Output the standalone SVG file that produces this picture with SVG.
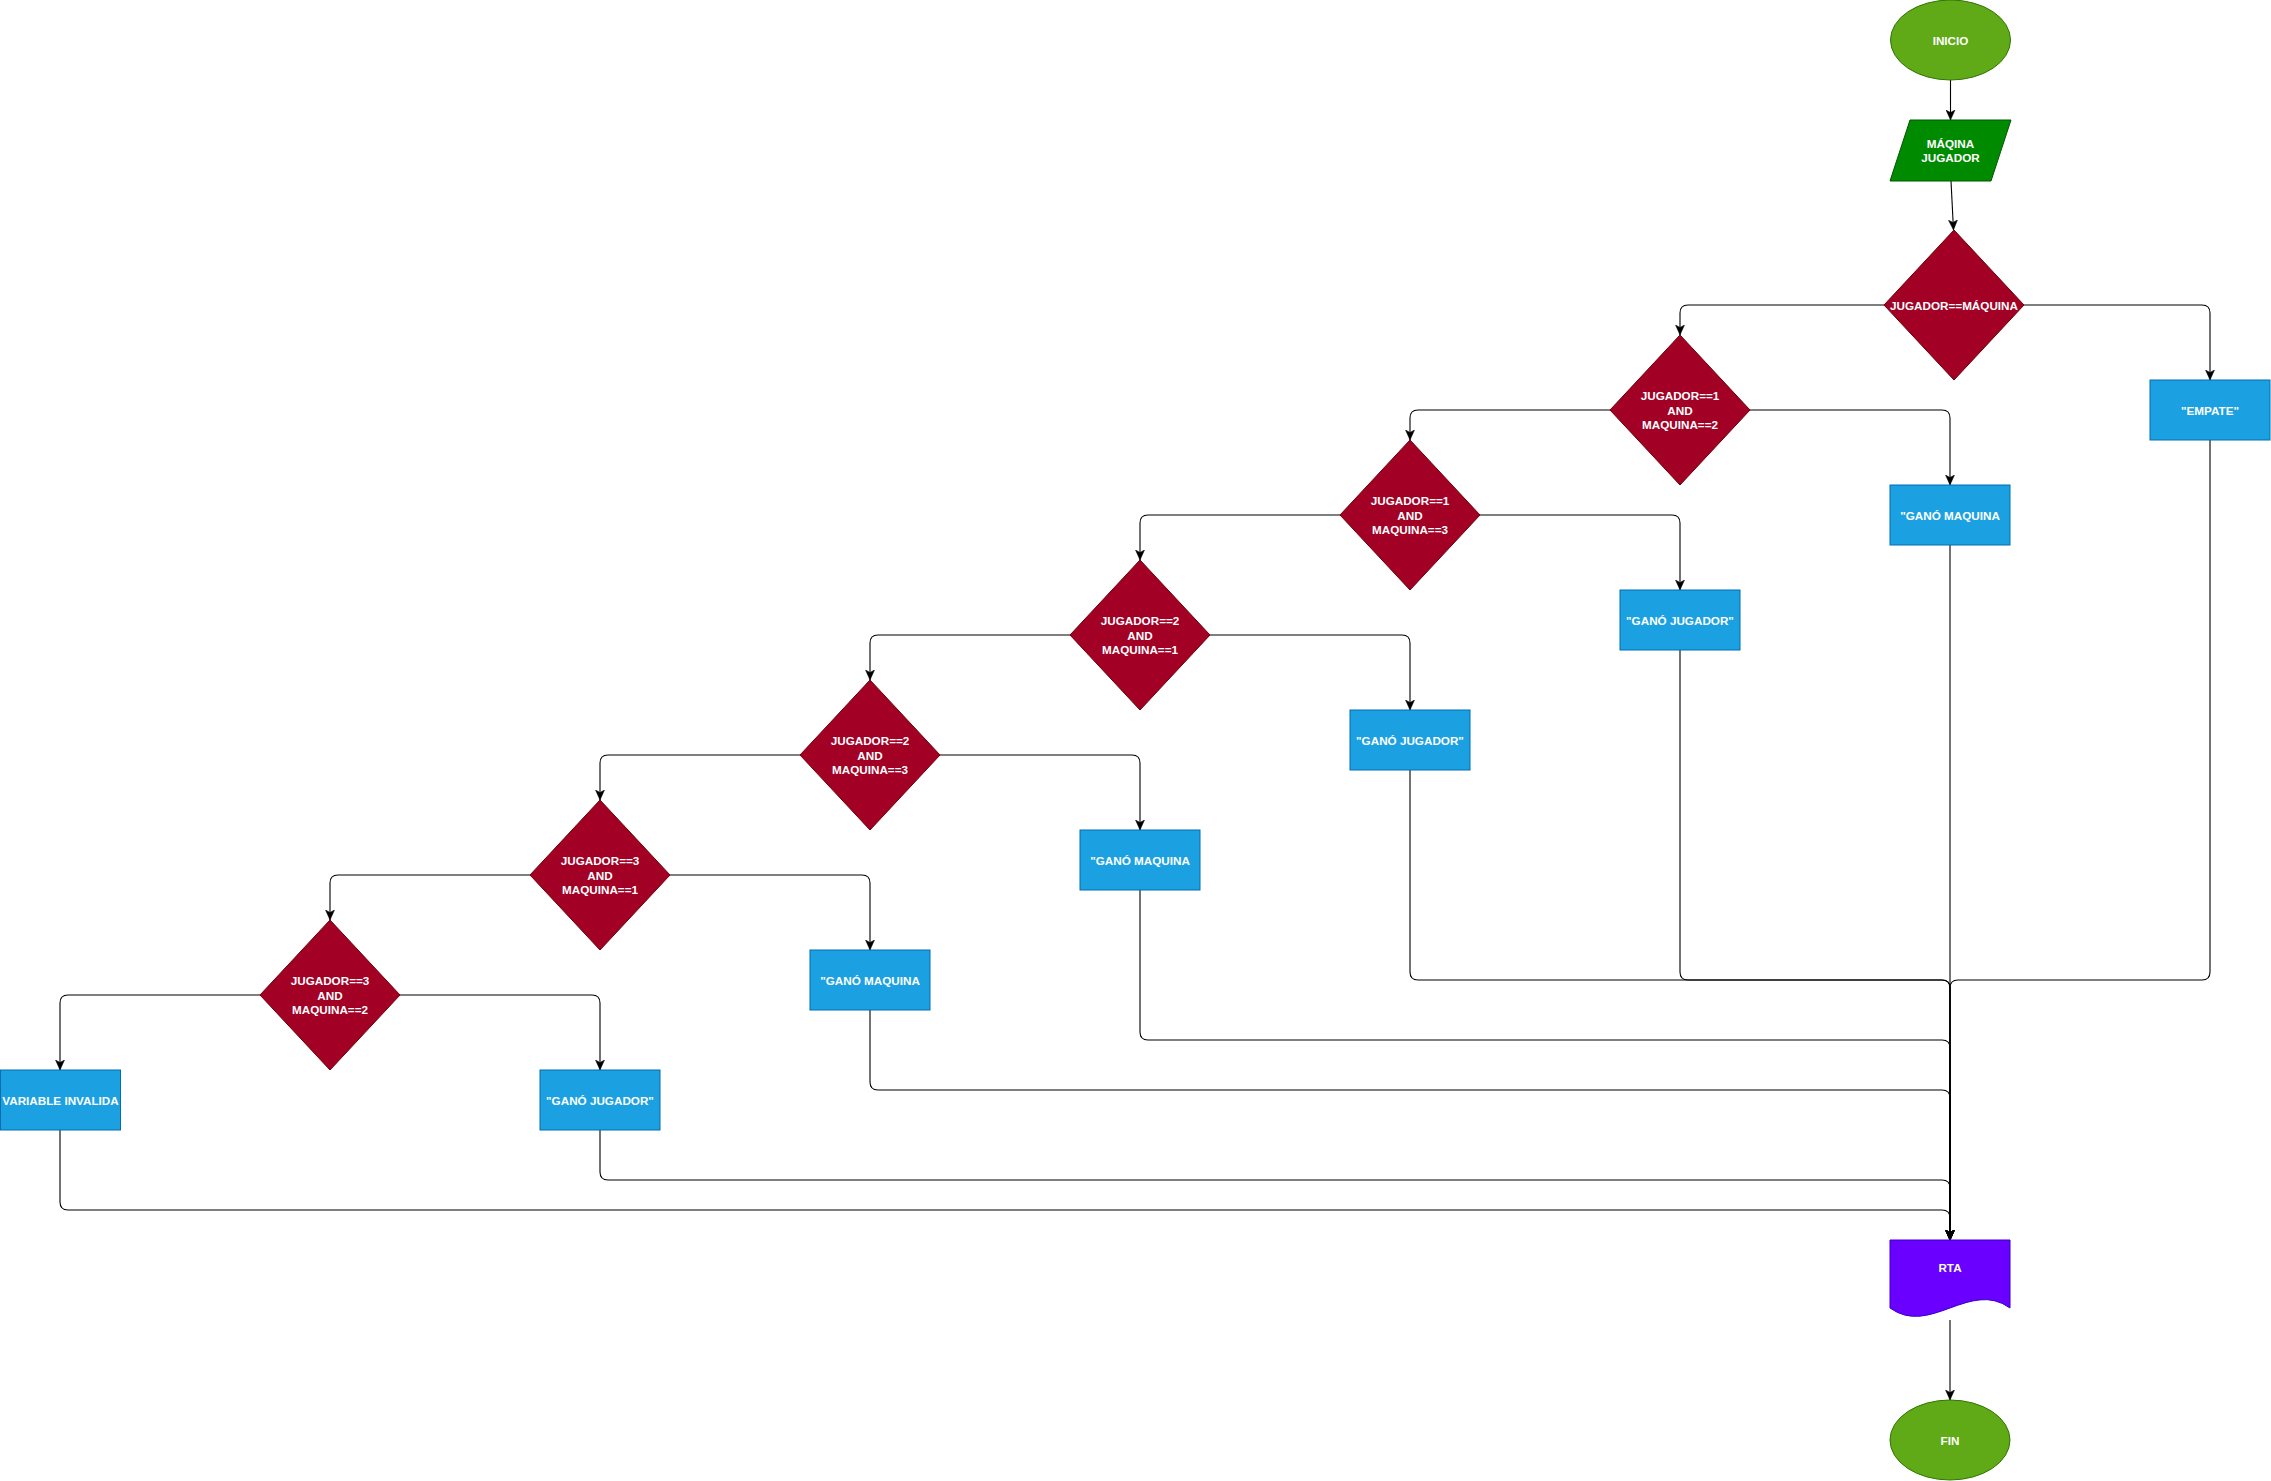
<svg xmlns="http://www.w3.org/2000/svg" width="2271" height="1481" viewBox="0 0 2271 1481">
<defs>
<marker id="arr" markerUnits="userSpaceOnUse" markerWidth="10" markerHeight="10" viewBox="0 0 10 10" refX="10" refY="5" orient="auto">
<path d="M0,0.5 L10,5 L0,9.5 L2.5,5 Z" fill="#000" stroke="#000" stroke-width="0.5"/>
</marker>
<style>
text{font-family:"Liberation Sans",Arial,sans-serif;font-size:11.7px;font-weight:bold;fill:#fff;text-anchor:middle;dominant-baseline:central}
.dia{fill:#a20025;stroke:#6f0000;stroke-width:1}
.box{fill:#1ba1e2;stroke:#006eaf;stroke-width:1}
.term{fill:#60a917;stroke:#2d7600;stroke-width:1}
.io{fill:#008a00;stroke:#005700;stroke-width:1}
.doc{fill:#6a00ff;stroke:#3700cc;stroke-width:1}
.e{fill:none;stroke:#000;stroke-width:1.1;marker-end:url(#arr)}
</style>
</defs>
<rect width="2271" height="1481" fill="#fff"/>
<g id="connectors">
<path class="e" d="M1950.5,80 V120"/>
<path class="e" d="M1951,181 L1953.5,230"/>
<path class="e" d="M1884,305 H1688 Q1680,305 1680,313 V335"/>
<path class="e" d="M2024,305 H2202 Q2210,305 2210,313 V380"/>
<path class="e" d="M1610,410 H1418 Q1410,410 1410,418 V440"/>
<path class="e" d="M1750,410 H1942 Q1950,410 1950,418 V485"/>
<path class="e" d="M1340,515 H1148 Q1140,515 1140,523 V560"/>
<path class="e" d="M1480,515 H1672 Q1680,515 1680,523 V590"/>
<path class="e" d="M1070,635 H878 Q870,635 870,643 V680"/>
<path class="e" d="M1210,635 H1402 Q1410,635 1410,643 V710"/>
<path class="e" d="M800,755 H608 Q600,755 600,763 V800"/>
<path class="e" d="M940,755 H1132 Q1140,755 1140,763 V830"/>
<path class="e" d="M530,875 H338 Q330,875 330,883 V920"/>
<path class="e" d="M670,875 H862 Q870,875 870,883 V950"/>
<path class="e" d="M260,995 H68 Q60,995 60,1003 V1070"/>
<path class="e" d="M400,995 H592 Q600,995 600,1003 V1070"/>
<path class="e" d="M2210,440 V972 Q2210,980 2202,980 H1958 Q1950,980 1950,988 V1240"/>
<path class="e" d="M1950,545 V1240"/>
<path class="e" d="M1680,650 V972 Q1680,980 1688,980 H1942 Q1950,980 1950,988 V1240"/>
<path class="e" d="M1410,770 V972 Q1410,980 1418,980 H1942 Q1950,980 1950,988 V1240"/>
<path class="e" d="M1140,890 V1032 Q1140,1040 1148,1040 H1942 Q1950,1040 1950,1048 V1240"/>
<path class="e" d="M870,1010 V1082 Q870,1090 878,1090 H1942 Q1950,1090 1950,1098 V1240"/>
<path class="e" d="M600,1130 V1172 Q600,1180 608,1180 H1942 Q1950,1180 1950,1188 V1240"/>
<path class="e" d="M60,1130 V1202 Q60,1210 68,1210 H1942 Q1950,1210 1950,1218 V1240"/>
<path class="e" d="M1950,1320 V1400"/>
</g>
<g id="inicio"><ellipse class="term" cx="1950.5" cy="40" rx="60" ry="40"/><text x="1950.5" y="40">INICIO</text></g>
<g id="entrada"><polygon class="io" points="1910,120 2011,120 1991,181 1890,181"/><text x="1950.5" y="143">MÁQINA</text><text x="1950.5" y="157.5">JUGADOR</text></g>
<g id="d1"><polygon class="dia" points="1954,230 2024,305 1954,380 1884,305"/><text x="1954" y="305">JUGADOR==MÁQUINA</text></g>
<g id="empate"><rect class="box" x="2150" y="380" width="120" height="60"/><text x="2210" y="410">"EMPATE"</text></g>
<g id="d2"><polygon class="dia" points="1680,335 1750,410 1680,485 1610,410"/><text x="1680" y="395.7">JUGADOR==1</text><text x="1680" y="410">AND</text><text x="1680" y="424.3">MAQUINA==2</text></g>
<g id="b2"><rect class="box" x="1890" y="485" width="120" height="60"/><text x="1950" y="515">"GANÓ MAQUINA</text></g>
<g id="d3"><polygon class="dia" points="1410,440 1480,515 1410,590 1340,515"/><text x="1410" y="500.7">JUGADOR==1</text><text x="1410" y="515">AND</text><text x="1410" y="529.3">MAQUINA==3</text></g>
<g id="b3"><rect class="box" x="1620" y="590" width="120" height="60"/><text x="1680" y="620">"GANÓ JUGADOR"</text></g>
<g id="d4"><polygon class="dia" points="1140,560 1210,635 1140,710 1070,635"/><text x="1140" y="620.7">JUGADOR==2</text><text x="1140" y="635">AND</text><text x="1140" y="649.3">MAQUINA==1</text></g>
<g id="b4"><rect class="box" x="1350" y="710" width="120" height="60"/><text x="1410" y="740">"GANÓ JUGADOR"</text></g>
<g id="d5"><polygon class="dia" points="870,680 940,755 870,830 800,755"/><text x="870" y="740.7">JUGADOR==2</text><text x="870" y="755">AND</text><text x="870" y="769.3">MAQUINA==3</text></g>
<g id="b5"><rect class="box" x="1080" y="830" width="120" height="60"/><text x="1140" y="860">"GANÓ MAQUINA</text></g>
<g id="d6"><polygon class="dia" points="600,800 670,875 600,950 530,875"/><text x="600" y="860.7">JUGADOR==3</text><text x="600" y="875">AND</text><text x="600" y="889.3">MAQUINA==1</text></g>
<g id="b6"><rect class="box" x="810" y="950" width="120" height="60"/><text x="870" y="980">"GANÓ MAQUINA</text></g>
<g id="d7"><polygon class="dia" points="330,920 400,995 330,1070 260,995"/><text x="330" y="980.7">JUGADOR==3</text><text x="330" y="995">AND</text><text x="330" y="1009.3">MAQUINA==2</text></g>
<g id="invalida"><rect class="box" x="0.5" y="1070" width="120" height="60"/><text x="60.5" y="1100">VARIABLE INVALIDA</text></g>
<g id="b7"><rect class="box" x="540" y="1070" width="120" height="60"/><text x="600" y="1100">"GANÓ JUGADOR"</text></g>
<g id="rta"><path class="doc" d="M1890,1240 H2010 V1308 C1970,1279 1930,1337 1890,1308 Z"/><text x="1950" y="1267">RTA</text></g>
<g id="fin"><ellipse class="term" cx="1950" cy="1440" rx="60" ry="40"/><text x="1950" y="1440">FIN</text></g>
</svg>
